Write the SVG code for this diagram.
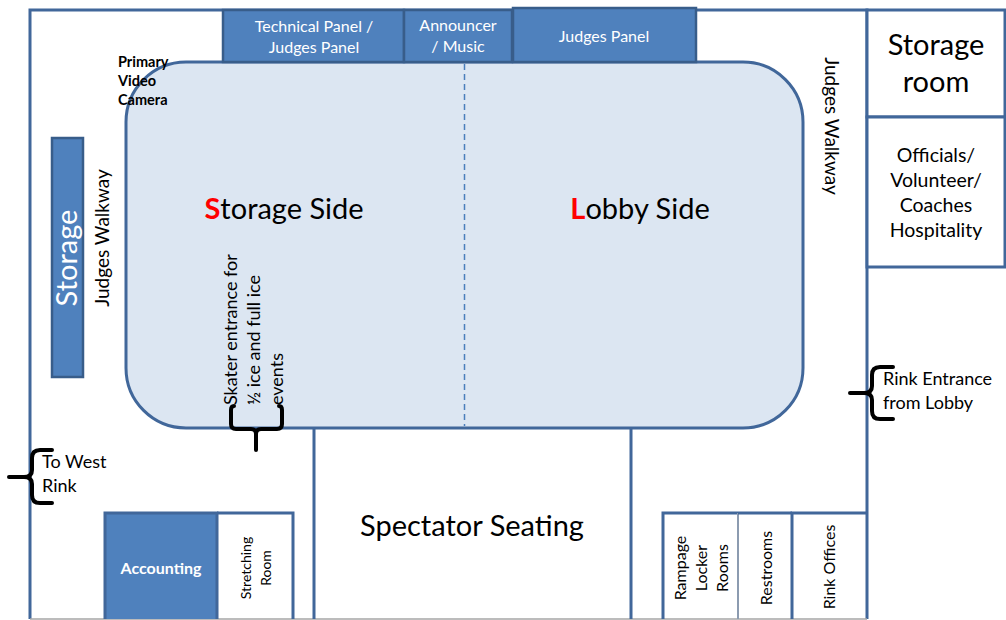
<svg xmlns="http://www.w3.org/2000/svg" width="1006" height="620" viewBox="0 0 1006 620">
<style>
.wall{fill:none;stroke:#41679a;stroke-width:3}
.panel{fill:#4f81bd;stroke:#385d8a;stroke-width:2.5}
.room{fill:#fff;stroke:#41679a;stroke-width:3}
.t{font-family:Lato,"Liberation Sans",sans-serif;fill:#000}
.w{fill:#fff}
.b{font-weight:bold}
.red{fill:#ff0000;font-weight:bold}
.brace{fill:none;stroke:#000;stroke-width:4;stroke-linecap:round;stroke-linejoin:round}
</style>
<rect width="1006" height="620" fill="#fff"/>
<g id="walls">
<path class="wall" d="M30,619 V10 H867 V619"/>
<line x1="30" y1="619" x2="867" y2="619" stroke="#a6a6a6" stroke-width="1.5"/>
<path class="wall" d="M314,428 V619 M631,428 V619"/>
</g>
<g id="rink">
<rect x="126" y="62" width="677" height="366" rx="60" fill="#dce6f2" stroke="#41679a" stroke-width="3"/>
<line x1="464.5" y1="64" x2="464.5" y2="426" stroke="#4a7ebb" stroke-width="1.5" stroke-dasharray="6,4"/>
<text class="t" x="284" y="219" font-size="29" text-anchor="middle"><tspan class="red">S</tspan>torage Side</text>
<text class="t" x="640" y="219" font-size="29" text-anchor="middle"><tspan class="red">L</tspan>obby Side</text>
</g>
<g id="technical-panel">
<rect class="panel" x="223" y="10" width="181" height="52"/>
<text class="t w" x="314" y="32" font-size="16" text-anchor="middle">Technical Panel /</text>
<text class="t w" x="314" y="53" font-size="16" text-anchor="middle">Judges Panel</text>
</g>
<g id="announcer">
<rect class="panel" x="404" y="10" width="108" height="52"/>
<text class="t w" x="458" y="31" font-size="16" text-anchor="middle">Announcer</text>
<text class="t w" x="458" y="52" font-size="16" text-anchor="middle">/ Music</text>
</g>
<g id="judges-panel">
<rect class="panel" x="513" y="8" width="183" height="54"/>
<text class="t w" x="604" y="42" font-size="16" text-anchor="middle">Judges Panel</text>
</g>
<g id="camera">
<text class="t b" x="118" y="67" font-size="14.5">Primary</text>
<text class="t b" x="118" y="86" font-size="14.5">Video</text>
<text class="t b" x="118" y="105" font-size="14.5">Camera</text>
</g>
<g id="storage-left">
<rect class="panel" x="52" y="138" width="31" height="239"/>
<text class="t w" font-size="29" text-anchor="middle" transform="translate(77,258) rotate(-90)">Storage</text>
</g>
<g id="judges-walkway-left">
<text class="t" font-size="19" text-anchor="middle" transform="translate(109,238) rotate(-90)">Judges Walkway</text>
</g>
<g id="judges-walkway-right">
<text class="t" font-size="19" text-anchor="middle" transform="translate(825,126) rotate(90)">Judges Walkway</text>
</g>
<g id="storage-room">
<rect class="room" x="867" y="10" width="138" height="107"/>
<text class="t" x="936" y="55" font-size="29" text-anchor="middle">Storage</text>
<text class="t" x="936" y="92" font-size="29" text-anchor="middle">room</text>
</g>
<g id="hospitality">
<rect class="room" x="867" y="117" width="138" height="150"/>
<text class="t" x="936" y="162" font-size="19.5" text-anchor="middle">Officials/</text>
<text class="t" x="936" y="187" font-size="19.5" text-anchor="middle">Volunteer/</text>
<text class="t" x="936" y="212" font-size="19.5" text-anchor="middle">Coaches</text>
<text class="t" x="936" y="237" font-size="19.5" text-anchor="middle">Hospitality</text>
</g>
<g id="skater-entrance">
<text class="t" font-size="18" transform="translate(237,405) rotate(-90)">Skater entrance for</text>
<text class="t" font-size="18" transform="translate(260,405) rotate(-90)">½ ice and full ice</text>
<text class="t" font-size="18" transform="translate(283,405) rotate(-90)">events</text>
</g>
<g id="west-rink">
<text class="t" x="42" y="468" font-size="18">To West</text>
<text class="t" x="42" y="492" font-size="18">Rink</text>
</g>
<g id="lobby-entrance">
<text class="t" x="883" y="385" font-size="18">Rink Entrance</text>
<text class="t" x="883" y="409" font-size="18">from Lobby</text>
</g>
<g id="spectator-seating">
<text class="t" x="472" y="536" font-size="29" text-anchor="middle">Spectator Seating</text>
</g>
<g id="accounting">
<rect x="105" y="513" width="112" height="106" fill="#4f81bd"/>
<path class="wall" d="M105,619 V513 H217 V619"/>
<text class="t w b" x="161" y="574" font-size="16" text-anchor="middle">Accounting</text>
</g>
<g id="stretching-room">
<path class="wall" d="M217,513 H293 V619"/>
<text class="t" font-size="14" text-anchor="middle" transform="translate(251,568) rotate(-90)">Stretching</text>
<text class="t" font-size="14" text-anchor="middle" transform="translate(271,568) rotate(-90)">Room</text>
</g>
<g id="locker-rooms">
<path class="wall" d="M663,619 V513 H738"/>
<text class="t" font-size="16" text-anchor="middle" transform="translate(686,568) rotate(-90)">Rampage</text>
<text class="t" font-size="16" text-anchor="middle" transform="translate(707,568) rotate(-90)">Locker</text>
<text class="t" font-size="16" text-anchor="middle" transform="translate(728,568) rotate(-90)">Rooms</text>
</g>
<g id="restrooms">
<path d="M738,513 V619" stroke="#8c9bb0" stroke-width="2" fill="none"/>
<path class="wall" d="M738,513 H792"/>
<text class="t" font-size="16" text-anchor="middle" transform="translate(772,568) rotate(-90)">Restrooms</text>
</g>
<g id="rink-offices">
<path class="wall" d="M792,619 V513 H867"/>
<text class="t" font-size="16" text-anchor="middle" transform="translate(835,567) rotate(-90)">Rink Offices</text>
</g>
<g id="connectors">
<path class="brace" d="M234,406 Q231,406 231,410 V424 Q231,429 236,429 H251 Q256,429 256,434 V450 M256,434 Q256,429 261,429 H277 Q282,429 282,424 V410 Q282,406 279,406"/>
<path class="brace" d="M52,450 H40 Q32,450 32,458 V470 Q32,477 24,477 H9 M24,477 Q32,477 32,484 V495 Q32,503 40,503 H52"/>
<path class="brace" d="M893,367 H880 Q872,367 872,375 V386 Q872,393 864,393 H850 M864,393 Q872,393 872,400 V411 Q872,419 880,419 H893"/>
</g>
</svg>
